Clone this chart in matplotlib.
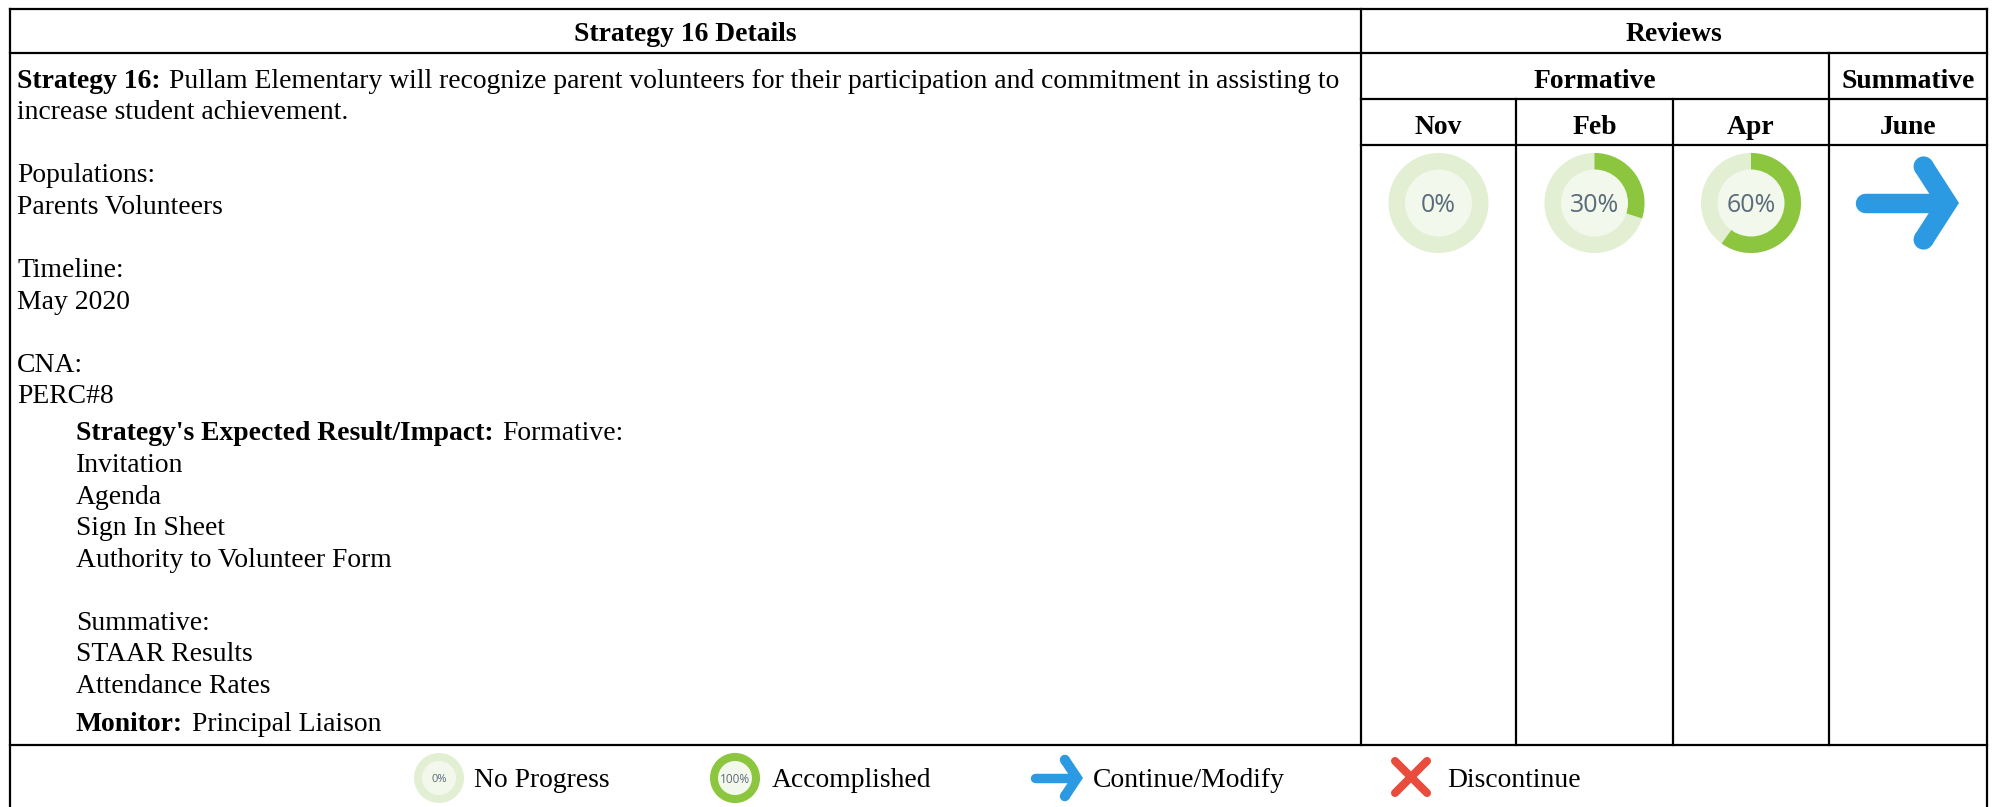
# -*- coding: utf-8 -*-
# Strategy review table with progress donuts
import matplotlib
matplotlib.use("Agg")
import matplotlib.pyplot as plt
from matplotlib.patches import Circle, Wedge, Polygon

W, H = 1995, 807
GREEN = "#8CC63F"
PALE = "#E2EFD3"
INNER = "#F2F8EB"
BLUE = "#2B9AE3"
RED = "#E94B3C"
GREY = "#5B6B7B"

months = ["Nov", "Feb", "Apr", "June"]
review_values = [0, 30, 60]
legend_labels = ["No Progress", "Accomplished", "Continue/Modify", "Discontinue"]
legend_values = [0, 100]

# baseline, left edge, bold part, plain part
body_lines = [
    (88, 17, "Strategy 16:", "Pullam Elementary will recognize parent volunteers for their participation and commitment in assisting to"),
    (119, 17, "", "increase student achievement."),
    (182, 17, "", "Populations:"),
    (214, 17, "", "Parents Volunteers"),
    (277, 17, "", "Timeline:"),
    (309, 17, "", "May 2020"),
    (372, 17, "", "CNA:"),
    (403, 17, "", "PERC#8"),
    (440, 76, "Strategy's Expected Result/Impact:", "Formative:"),
    (472, 76, "", "Invitation"),
    (504, 76, "", "Agenda"),
    (535, 76, "", "Sign In Sheet"),
    (567, 76, "", "Authority to Volunteer Form"),
    (630, 76, "", "Summative:"),
    (661, 76, "", "STAAR Results"),
    (693, 76, "", "Attendance Rates"),
    (731, 76, "Monitor:", "Principal Liaison"),
]

plt.rcParams["font.family"] = ["Liberation Serif", "DejaVu Serif"]
fig = plt.figure(figsize=(W / 100, H / 100), dpi=100)
ax = fig.add_axes([0, 0, 1, 1])
ax.set_xlim(0, W)
ax.set_ylim(H, 0)
ax.axis("off")

# table grid
col_x = [10, 1361, 1516, 1673, 1829, 1987]
row_y = [9, 53, 99, 145, 745]
lw = 1.6
ax.plot([col_x[0], col_x[5]], [row_y[0], row_y[0]], color="black", lw=lw)
ax.plot([col_x[0], col_x[5]], [row_y[1], row_y[1]], color="black", lw=lw)
ax.plot([col_x[1], col_x[5]], [row_y[2], row_y[2]], color="black", lw=lw)
ax.plot([col_x[1], col_x[5]], [row_y[3], row_y[3]], color="black", lw=lw)
ax.plot([col_x[0], col_x[5]], [row_y[4], row_y[4]], color="black", lw=lw)
ax.plot([col_x[0], col_x[0]], [row_y[0], H], color="black", lw=lw)
ax.plot([col_x[1], col_x[1]], [row_y[0], row_y[4]], color="black", lw=lw)
ax.plot([col_x[2], col_x[2]], [row_y[2], row_y[4]], color="black", lw=lw)
ax.plot([col_x[3], col_x[3]], [row_y[2], row_y[4]], color="black", lw=lw)
ax.plot([col_x[4], col_x[4]], [row_y[1], row_y[4]], color="black", lw=lw)
ax.plot([col_x[5], col_x[5]], [row_y[0], H], color="black", lw=lw)

FS = 19.9


def header(x, y, s):
    ax.text(x, y, s, fontsize=FS, fontweight="bold", ha="center", va="baseline")


header((col_x[0] + col_x[1]) / 2, 41, "Strategy 16 Details")
header((col_x[1] + col_x[5]) / 2, 41, "Reviews")
header((col_x[1] + col_x[4]) / 2, 88, "Formative")
header((col_x[4] + col_x[5]) / 2, 88, "Summative")
for i in range(4):
    header((col_x[i + 1] + col_x[i + 2]) / 2, 134, months[i])

# body text, bold run followed by the plain run
renderer = fig.canvas.get_renderer()
for y, x, bold, plain in body_lines:
    if bold:
        t = ax.text(x, y, bold, fontsize=FS, fontweight="bold", va="baseline")
        box = t.get_window_extent(renderer)
        x = box.x1 + 8.5
    ax.text(x, y, plain, fontsize=FS, va="baseline")


def donut(cx, cy, r, r_in, value, fs):
    ax.add_patch(Circle((cx, cy), r, color=PALE, lw=0))
    if value >= 100:
        ax.add_patch(Circle((cx, cy), r, color=GREEN, lw=0))
    elif value > 0:
        # y axis is flipped, so angles run clockwise from the top
        ax.add_patch(Wedge((cx, cy), r, -90, -90 + value * 3.6, color=GREEN, lw=0))
    ax.add_patch(Circle((cx, cy), r_in, color=INNER, lw=0))
    ax.text(cx, cy + r * 0.05, f"{value}%", fontsize=fs, color=GREY, ha="center", va="center",
            family=["Open Sans", "DejaVu Sans"])


def arrow(x0, tip, cy, dx, dy, shaft, arm):
    # miter joins come out blunt, so the head is a filled chevron with round ends
    length = (dx ** 2 + dy ** 2) ** 0.5
    nx, ny = -dy / length * arm, dx / length * arm
    ax.plot([x0, tip - arm], [cy, cy], color=BLUE, lw=shaft, solid_capstyle="round")
    inner_x = tip - arm * length / dy
    ax.add_patch(Polygon([(tip, cy), (tip - dx, cy - dy), (tip - dx + nx, cy - dy + ny),
                          (inner_x, cy), (tip - dx + nx, cy + dy - ny), (tip - dx, cy + dy)],
                         closed=True, color=BLUE, lw=0))
    ax.add_patch(Circle((tip - dx + nx / 2, cy - dy + ny / 2), arm / 2, color=BLUE, lw=0))
    ax.add_patch(Circle((tip - dx + nx / 2, cy + dy - ny / 2), arm / 2, color=BLUE, lw=0))


for i in range(3):
    donut((col_x[i + 1] + col_x[i + 2]) / 2, 203, 50, 33.5, review_values[i], 18)
arrow(1865, 1959, 203, 27, 42, 14, 20)

# legend row
donut(439, 778, 25, 17, legend_values[0], 8)
ax.text(474, 787, legend_labels[0], fontsize=FS, va="baseline")
donut(735, 778, 25, 17, legend_values[1], 8.5)
ax.text(772, 787, legend_labels[1], fontsize=FS, va="baseline")
arrow(1035, 1083, 778, 14, 21, 6.8, 10)
ax.text(1093, 787, legend_labels[2], fontsize=FS, va="baseline")
ax.plot([1395, 1427], [761, 793], color=RED, lw=5.8, solid_capstyle="round")
ax.plot([1395, 1427], [793, 761], color=RED, lw=5.8, solid_capstyle="round")
ax.text(1447, 787, legend_labels[3], fontsize=FS, va="baseline")

fig.savefig("out.png", dpi=100)
